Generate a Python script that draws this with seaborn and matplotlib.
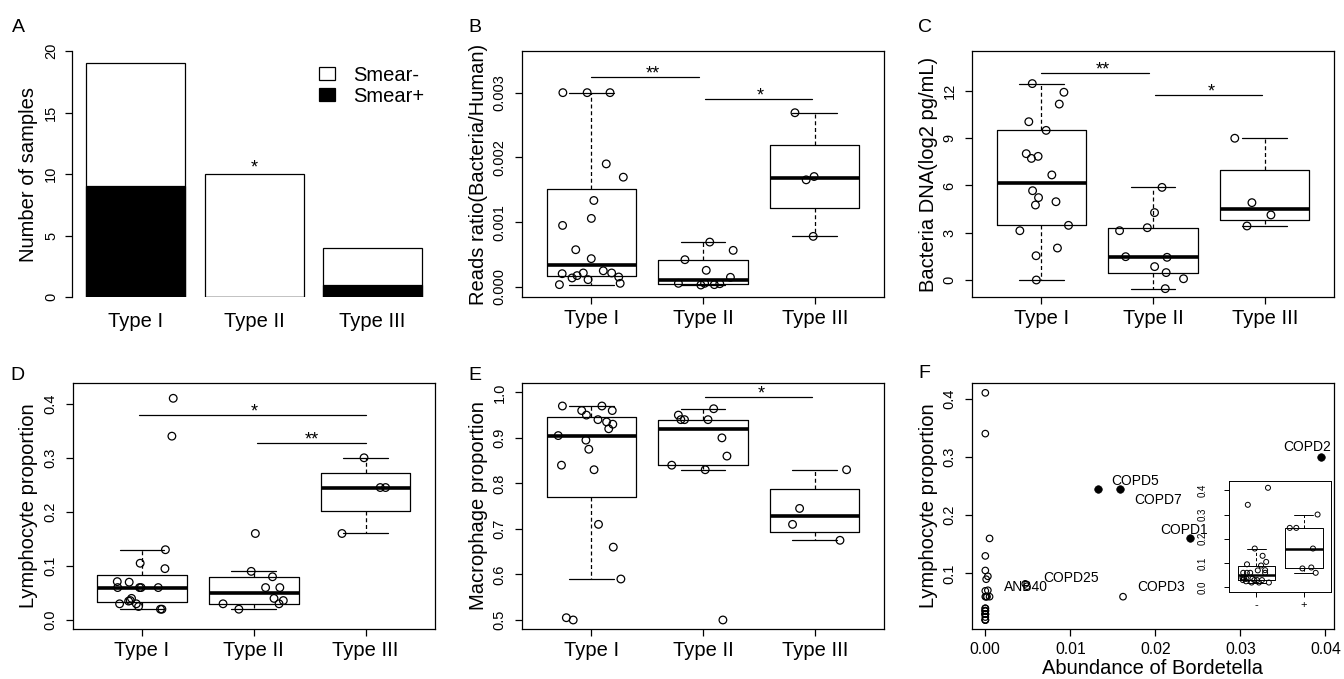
import numpy as np
import pandas as pd
import matplotlib
matplotlib.use("Agg")
import matplotlib.pyplot as plt
import seaborn as sns
from matplotlib.patches import Patch
from matplotlib.ticker import FormatStrFormatter

groups = ["Type I", "Type II", "Type III"]

# A: number of samples by smear result
smear_pos = [9, 0, 1]
smear_neg = [10, 10, 3]

# B: reads ratio (Bacteria/Human)
reads_t1 = [0.0030, 0.0030, 0.0030, 0.00190, 0.001695, 0.001335, 0.001058, 0.00095, 0.000575,
            0.000437, 0.00025, 0.000216, 0.000216, 0.000205, 0.000175, 0.000154, 0.000139,
            0.000113, 0.000056, 0.000036]
reads_t2 = [0.000693, 0.000565, 0.000421, 0.000257, 0.000149, 0.000056, 0.000056, 0.00005,
            0.000036, 0.00003]
reads_t3 = [0.00269, 0.001705, 0.001654, 0.000781]

# C: bacteria DNA (log2 pg/mL)
dna_t1 = [12.47, 11.92, 11.17, 10.05, 9.50, 8.02, 7.85, 7.72, 6.67, 5.67, 5.23, 4.97, 4.76,
          3.47, 3.13, 2.03, 1.54, 0.0]
dna_t2 = [5.88, 4.28, 3.32, 3.13, 1.48, 1.44, 0.85, 0.47, 0.08, -0.55]
dna_t3 = [9.0, 4.91, 4.13, 3.43]

# D: lymphocyte proportion
lymph_t1 = [0.41, 0.34, 0.13, 0.105, 0.095, 0.071, 0.07, 0.06, 0.06, 0.06, 0.06, 0.04, 0.036,
            0.035, 0.03, 0.03, 0.025, 0.02, 0.02]
lymph_t2 = [0.16, 0.09, 0.08, 0.06, 0.06, 0.04, 0.036, 0.03, 0.03, 0.02]
lymph_t3 = [0.30, 0.245, 0.245, 0.16]

# E: macrophage proportion
macro_t1 = [0.97, 0.97, 0.96, 0.96, 0.95, 0.94, 0.935, 0.93, 0.92, 0.905, 0.895, 0.875, 0.84,
            0.83, 0.71, 0.66, 0.59, 0.505, 0.50]
macro_t2 = [0.964, 0.95, 0.94, 0.94, 0.94, 0.90, 0.86, 0.84, 0.83, 0.50]
macro_t3 = [0.83, 0.745, 0.71, 0.675]

# significance bars: (from, to, height, stars, star x)
sig_b = [(0, 0.96, 0.003236, "**", 0.55), (1.02, 1.98, 0.002907, "*", 1.51)]
sig_c = [(0, 0.96, 13.14, "**", 0.55), (1.02, 1.98, 11.77, "*", 1.52)]
sig_d = [(-0.03, 2.0, 0.3784, "*", 1.0), (1.03, 2.0, 0.3267, "**", 1.52)]
sig_e = [(1.02, 1.98, 0.989, "*", 1.52)]

# F: Bordetella abundance vs lymphocyte proportion
neg_abund = [0.0, 0.0, 0.0005, 0.0, 0.0, 0.0003, 0.0001, 0.0003, 0.0, 0.0, 0.0002, 0.0005,
             0.0001, 0.0, 0.0, 0.0, 0.0, 0.0, 0.0, 0.0, 0.0, 0.0, 0.0, 0.0, 0.0, 0.0]
neg_lymph = [0.41, 0.34, 0.16, 0.13, 0.105, 0.095, 0.09, 0.071, 0.07, 0.06, 0.06, 0.06, 0.06,
             0.04, 0.04, 0.036, 0.036, 0.035, 0.03, 0.03, 0.03, 0.03, 0.025, 0.02, 0.02, 0.02]
pos_names = ["COPD2", "COPD5", "COPD7", "COPD1", "COPD3", "COPD25", "ANB40"]
pos_abund = [0.0395, 0.0158, 0.0133, 0.0241, 0.0162, 0.0049, 0.0047]
pos_lymph = [0.30, 0.245, 0.245, 0.16, 0.06, 0.078, 0.082]
pos_filled = [True, True, True, True, False, False, False]
name_x = [0.03784, 0.01767, 0.02028, 0.02335, 0.02074, 0.01007, 0.00476]
name_y = [0.317, 0.258, 0.226, 0.175, 0.076, 0.092, 0.076]

W, H = 1344, 679
LW = 0.9

sns.set_style("ticks")
plt.rcParams["font.family"] = ["Liberation Sans", "DejaVu Sans"]
plt.rcParams["axes.linewidth"] = LW
plt.rcParams["xtick.major.width"] = LW
plt.rcParams["ytick.major.width"] = LW
plt.rcParams["xtick.major.size"] = 5
plt.rcParams["ytick.major.size"] = 5
for key in ["axes.edgecolor", "text.color", "axes.labelcolor", "xtick.color", "ytick.color"]:
    plt.rcParams[key] = "black"

np.random.seed(7)
fig = plt.figure(figsize=(W / 100, H / 100), dpi=100)


def px_axes(x0, y0, x1, y1):
    return fig.add_axes([x0 / W, 1 - y1 / H, (x1 - x0) / W, (y1 - y0) / H])


def tukey_stats(values):
    # same hinges/whiskers as R's boxplot
    x = np.sort(np.asarray(values, dtype=float))
    n = len(x)
    n4 = np.floor((n + 3) / 2) / 2
    d = np.array([1, n4, (n + 1) / 2, n + 1 - n4, n]) - 1
    five = 0.5 * (x[np.floor(d).astype(int)] + x[np.ceil(d).astype(int)])
    q1, med, q3 = five[1], five[2], five[3]
    iqr = q3 - q1
    inside = x[(x >= q1 - 1.5 * iqr) & (x <= q3 + 1.5 * iqr)]
    return dict(med=med, q1=q1, q3=q3, whislo=inside.min(), whishi=inside.max(), fliers=[])


def long_df(series, names):
    return pd.DataFrame({"group": np.repeat(names, [len(s) for s in series]),
                         "value": np.concatenate(series)})


def draw_boxes(ax, series, names, lw=LW, med_lw=2.6, size=5.5, jitter=0.3):
    stats = [tukey_stats(s) for s in series]
    ax.bxp(stats, positions=range(len(series)), widths=0.8, capwidths=0.4,
           showfliers=False, manage_ticks=False,
           boxprops=dict(color="black", lw=lw),
           whiskerprops=dict(color="black", lw=lw, ls=(0, (3.2, 2.2))),
           capprops=dict(color="black", lw=lw),
           medianprops=dict(color="black", lw=med_lw, solid_capstyle="butt"))
    sns.stripplot(data=long_df(series, names), x="group", y="value", order=names,
                  jitter=jitter, size=size, color="black", linewidth=lw, ax=ax, zorder=3)
    for coll in ax.collections:
        coll.set_facecolor("none")
        coll.set_edgecolor("black")
    ax.set_xlim(-0.62, len(series) - 1 + 0.62)


def style_axes(ax, ylabel, yticks, fmt, xfont=14.5):
    ax.set_yticks(yticks)
    ax.yaxis.set_major_formatter(FormatStrFormatter(fmt))
    ax.tick_params(axis="y", labelrotation=90, labelsize=10.5, pad=6)
    for t in ax.get_yticklabels():
        t.set_va("center")
    ax.tick_params(axis="x", labelsize=xfont, pad=4)
    ax.set_xlabel("")
    ax.set_ylabel(ylabel, fontsize=14.5, va="center")
    width_px = ax.get_position().width * W
    ax.yaxis.set_label_coords(-44 / width_px, 0.5)
    for sp in ax.spines.values():
        sp.set_visible(True)
        sp.set_color("black")


def add_sig(ax, sig):
    for x0, x1, y, label, xt in sig:
        ax.plot([x0, x1], [y, y], color="black", lw=LW)
        ax.annotate(label, xy=(xt, y), xytext=(0, -1), textcoords="offset points",
                    ha="center", va="baseline", fontsize=13)


# ---- A ----
axA = px_axes(72, 51, 435, 297)
totals = [p + n for p, n in zip(smear_pos, smear_neg)]
sns.barplot(x=groups, y=totals, color="white", edgecolor="black", linewidth=LW, width=0.835,
            saturation=1, errorbar=None, ax=axA)
sns.barplot(x=groups, y=smear_pos, color="black", edgecolor="black", linewidth=LW, width=0.835,
            saturation=1, errorbar=None, ax=axA)
axA.set_xlim(-0.536, 2.527)
axA.set_ylim(0, 20)
axA.set_yticks([0, 5, 10, 15, 20])
axA.tick_params(axis="y", labelrotation=90, labelsize=10.5, pad=5)
for t in axA.get_yticklabels():
    t.set_va("center")
axA.tick_params(axis="x", length=0, labelsize=14.5, pad=11)
for side in ["top", "right", "bottom"]:
    axA.spines[side].set_visible(False)
axA.spines["left"].set_bounds(0, 20)
axA.set_ylabel("Number of samples", fontsize=14.5, va="center")
axA.yaxis.set_label_coords(-43 / 363, 0.5)
axA.annotate("*", xy=(1, totals[1]), xytext=(0, 1), textcoords="offset points",
             ha="center", va="baseline", fontsize=13)
axA.legend(handles=[Patch(fc="white", ec="black", lw=LW, label="Smear-"),
                    Patch(fc="black", ec="black", lw=LW, label="Smear+")],
           loc="upper left", bbox_to_anchor=(319 / W, 1 - 66 / H), bbox_transform=fig.transFigure,
           frameon=False, fontsize=14.5, handlelength=0.78, handleheight=0.61,
           handletextpad=0.9, labelspacing=0.1, borderpad=0, borderaxespad=0)

# ---- B ----
axB = px_axes(522, 51, 884, 297)
draw_boxes(axB, [reads_t1, reads_t2, reads_t3], groups)
axB.set_ylim(-0.000155, 0.003643)
add_sig(axB, sig_b)
style_axes(axB, "Reads ratio(Bacteria/Human)", [0, 0.001, 0.002, 0.003], "%.3f")

# ---- C ----
axC = px_axes(972, 51, 1334, 297)
draw_boxes(axC, [dna_t1, dna_t2, dna_t3], groups)
axC.set_ylim(-1.08, 14.54)
add_sig(axC, sig_c)
style_axes(axC, "Bacteria DNA(log2 pg/mL)", [0, 3, 6, 9, 12], "%d")

# ---- D ----
axD = px_axes(72.7, 383, 435, 629)
draw_boxes(axD, [lymph_t1, lymph_t2, lymph_t3], groups)
axD.set_ylim(-0.0166, 0.4383)
add_sig(axD, sig_d)
style_axes(axD, "Lymphocyte proportion", [0, 0.1, 0.2, 0.3, 0.4], "%.1f")

# ---- E ----
axE = px_axes(522, 383, 884, 629)
draw_boxes(axE, [macro_t1, macro_t2, macro_t3], groups)
axE.set_ylim(0.4802, 1.0205)
add_sig(axE, sig_e)
style_axes(axE, "Macrophage proportion", [0.5, 0.6, 0.7, 0.8, 0.9, 1.0], "%.1f")

# ---- F ----
axF = px_axes(972, 383, 1334, 629)
open_x = neg_abund + [a for a, f in zip(pos_abund, pos_filled) if not f]
open_y = neg_lymph + [v for v, f in zip(pos_lymph, pos_filled) if not f]
sns.scatterplot(x=open_x, y=open_y, s=22, color="black", ax=axF)
axF.collections[-1].set_facecolor("none")
axF.collections[-1].set_edgecolor("black")
axF.collections[-1].set_linewidth(0.85)
sns.scatterplot(x=[a for a, f in zip(pos_abund, pos_filled) if f],
                y=[v for v, f in zip(pos_lymph, pos_filled) if f],
                s=30, color="black", edgecolor="black", ax=axF)
for name, tx, ty in zip(pos_names, name_x, name_y):
    axF.text(tx, ty, name, ha="center", va="center", fontsize=10)
axF.set_xlim(-0.001566, 0.04102)
axF.set_ylim(0.0045, 0.4269)
axF.set_xticks([0, 0.01, 0.02, 0.03, 0.04])
axF.xaxis.set_major_formatter(FormatStrFormatter("%.2f"))
style_axes(axF, "Lymphocyte proportion", [0.1, 0.2, 0.3, 0.4], "%.1f", xfont=11.3)
axF.set_xlabel("Abundance of Bordetella", fontsize=14.5, va="center")
axF.xaxis.set_label_coords(0.5, -(669 - 629) / 246)

# inset: lymphocyte proportion by Bordetella status
axI = px_axes(1229, 481, 1331, 592)
draw_boxes(axI, [neg_lymph, pos_lymph], ["-", "+"], lw=0.7, med_lw=1.8, size=3.6, jitter=0.3)
axI.set_xlim(-0.58, 1.58)
axI.set_ylim(-0.019, 0.438)
axI.set_yticks([0, 0.1, 0.2, 0.3, 0.4])
axI.yaxis.set_major_formatter(FormatStrFormatter("%.1f"))
axI.tick_params(axis="both", length=3.5, width=0.7)
axI.tick_params(axis="y", labelrotation=90, labelsize=7, pad=12)
for t in axI.get_yticklabels():
    t.set_va("center")
axI.tick_params(axis="x", labelsize=8, pad=2)
axI.set_xlabel("")
axI.set_ylabel("")
for sp in axI.spines.values():
    sp.set_linewidth(0.7)

# panel letters
for letter, (lx, ly) in zip("ABCDEF", [(12, 32), (468, 32), (918, 32), (10, 380), (468, 380), (918, 378)]):
    fig.text(lx / W, 1 - ly / H, letter, fontsize=14, va="baseline", ha="left")

fig.savefig("out.png", dpi=100)
